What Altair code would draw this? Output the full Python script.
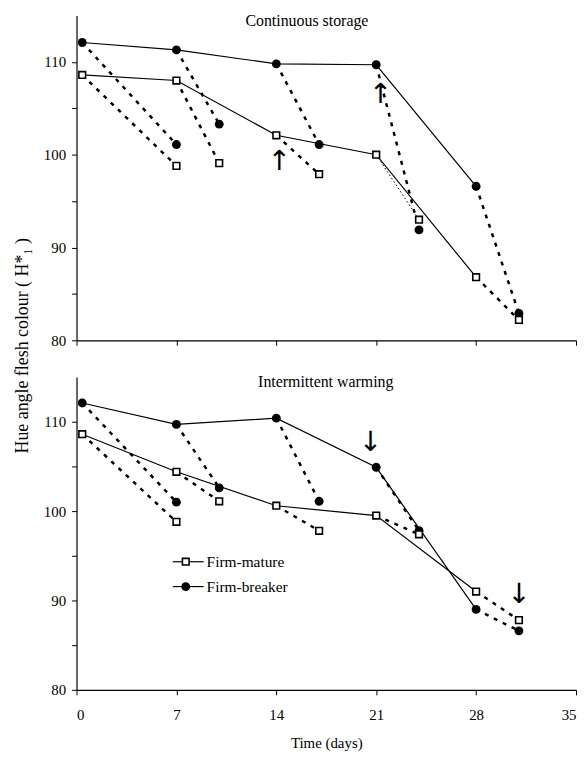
import altair as alt
import pandas as pd

# ---- data ----
days_main = [0.4, 7, 14, 21, 28]
days_ripe = [7, 10, 17, 24, 31]

cont_mature = [108.6, 108.0, 102.1, 100.0, 86.8]
cont_breaker = [112.1, 111.3, 109.8, 109.7, 96.6]
cont_mature_ripe = [98.8, 99.1, 97.9, 93.0, 82.2]
cont_breaker_ripe = [101.1, 103.3, 101.1, 91.9, 82.9]

int_mature = [108.6, 104.4, 100.6, 99.5, 91.0]
int_breaker = [112.1, 109.7, 110.4, 104.9, 89.0]
int_mature_ripe = [98.8, 101.1, 97.8, 97.4, 87.8]
int_breaker_ripe = [101.0, 102.6, 101.1, 97.8, 86.6]

cont_arrow_days = [14.2, 21.3]
cont_arrow_vals = [99.2, 106.4]
int_arrow_days = [20.6, 31.0]
int_arrow_vals = [107.6, 90.6]

# segments drawn as a fine dotted line instead of thick dashes
cont_fine_segments = ["Firm-mature-3"]
int_fine_segments = []

series_names = ["Firm-mature", "Firm-breaker"]
x_ticks = [0, 7, 14, 21, 28, 35]
y_ticks = [80, 85, 90, 95, 100, 105, 110]

FONT = "Liberation Serif"
W = 503


def build_frames(mature, breaker, mature_ripe, breaker_ripe):
    main_rows, ripe_rows, seg_rows = [], [], []
    for name, vals, rvals in [(series_names[0], mature, mature_ripe),
                              (series_names[1], breaker, breaker_ripe)]:
        for i, (d, v) in enumerate(zip(days_main, vals)):
            main_rows.append({"day": d, "value": v, "series": name, "order": i})
        for i, (d, v) in enumerate(zip(days_ripe, rvals)):
            ripe_rows.append({"day": d, "value": v, "series": name})
            seg = f"{name}-{i}"
            seg_rows.append({"day": days_main[i], "value": vals[i], "seg": seg})
            seg_rows.append({"day": d, "value": v, "seg": seg})
    return pd.DataFrame(main_rows), pd.DataFrame(ripe_rows), pd.DataFrame(seg_rows)


def panel(mature, breaker, mature_ripe, breaker_ripe, arrow_days, arrow_vals,
          arrow_glyph, title, title_x, height, bottom, legend, fine_segs):
    main, ripe, segs = build_frames(mature, breaker, mature_ripe, breaker_ripe)
    pts = pd.concat([main[["day", "value", "series"]], ripe], ignore_index=True)

    if bottom:
        xax = alt.Axis(values=x_ticks, title="Time (days)", titleFont=FONT,
                       titleFontSize=15, titleFontWeight="normal", titlePadding=13,
                       labelPadding=13)
        yax = alt.Axis(values=y_ticks, labelExpr="datum.value % 10 == 0 ? datum.label : ''",
                       title="Hue angle flesh colour ( H*\u2081 )", titleFont=FONT,
                       titleFontSize=18, titleFontWeight="normal",
                       titleX=-54, titleY=-32, titleAngle=270, titleBaseline="middle")
    else:
        xax = alt.Axis(values=x_ticks, labels=False, title=None)
        yax = alt.Axis(values=y_ticks, labelExpr="datum.value % 10 == 0 ? datum.label : ''",
                       title=None)

    x = alt.X("day:Q", scale=alt.Scale(domain=[0, 35], nice=False), axis=xax)
    y = alt.Y("value:Q", scale=alt.Scale(domain=[80, 115], nice=False, zero=False), axis=yax)

    thick = segs[~segs.seg.isin(fine_segs)]
    fine = segs[segs.seg.isin(fine_segs)]

    solid = alt.Chart(main).mark_line(color="black", strokeWidth=1.2).encode(
        x=x, y=y, detail="series:N", order="order:Q")
    dashed = alt.Chart(thick).mark_line(color="black", strokeWidth=2.5,
                                        strokeDash=[4, 6]).encode(
        x=x, y=y, detail="seg:N")
    layers = [solid, dashed]
    if len(fine):
        layers.append(alt.Chart(fine).mark_line(color="black", strokeWidth=1,
                                                strokeDash=[1.5, 2.5]).encode(
            x=x, y=y, detail="seg:N"))
    circ = alt.Chart(pts[pts.series == series_names[1]]).mark_point(
        shape="circle", filled=True, color="black", size=80, opacity=1).encode(x=x, y=y)
    sq = alt.Chart(pts[pts.series == series_names[0]]).mark_point(
        shape="square", filled=True, fill="white", stroke="black", strokeWidth=1.6,
        size=45, opacity=1).encode(x=x, y=y)
    arrows = alt.Chart(pd.DataFrame({"day": arrow_days, "value": arrow_vals})).mark_text(
        text=arrow_glyph, font="DejaVu Sans", fontSize=28, color="black", fill="black",
        baseline="middle").encode(x=x, y=y)
    ttl = alt.Chart(pd.DataFrame({"t": [title]})).mark_text(
        font=FONT, fontSize=16, color="black", baseline="middle").encode(
        text="t:N", x=alt.value(title_x), y=alt.value(5))

    layers += [circ, sq, arrows, ttl]

    if legend:
        rows = [(series_names[0], 186), (series_names[1], 211)]
        for name, ly in rows:
            layers.append(alt.Chart(pd.DataFrame({"n": [name]})).mark_rule(
                color="black", strokeWidth=1.2).encode(
                x=alt.value(97), x2=alt.value(128), y=alt.value(ly)))
            if name == series_names[0]:
                layers.append(alt.Chart(pd.DataFrame({"n": [name]})).mark_point(
                    shape="square", filled=True, fill="white", stroke="black",
                    strokeWidth=1.6, size=45, opacity=1).encode(
                    x=alt.value(110), y=alt.value(ly)))
            else:
                layers.append(alt.Chart(pd.DataFrame({"n": [name]})).mark_point(
                    shape="circle", filled=True, color="black", size=80,
                    opacity=1).encode(x=alt.value(110), y=alt.value(ly)))
            layers.append(alt.Chart(pd.DataFrame({"n": [name]})).mark_text(
                font=FONT, fontSize=15.5, color="black", align="left",
                baseline="middle").encode(text="n:N", x=alt.value(131), y=alt.value(ly)))

    return alt.layer(*layers).properties(width=W, height=height)


top = panel(cont_mature, cont_breaker, cont_mature_ripe, cont_breaker_ripe,
            cont_arrow_days, cont_arrow_vals, "\u2191", "Continuous storage",
            232, 327, False, False, cont_fine_segments)
bottom = panel(int_mature, int_breaker, int_mature_ripe, int_breaker_ripe,
               int_arrow_days, int_arrow_vals, "\u2193", "Intermittent warming",
               251, 315, True, True, int_fine_segments)

chart = alt.vconcat(top, bottom, spacing=37, bounds="flush").properties(
    padding={"left": 5, "top": 2, "right": 0, "bottom": 5}
).configure_view(stroke=None).configure_axis(
    grid=False, labelFont=FONT, labelFontSize=15, labelColor="black",
    domainColor="black", tickColor="black", tickSize=5, domainWidth=1.2,
    tickWidth=1, titleColor="black"
).configure_axisY(labelPadding=6)

chart.save("out.html", embed_options={"renderer": "svg", "actions": False})
